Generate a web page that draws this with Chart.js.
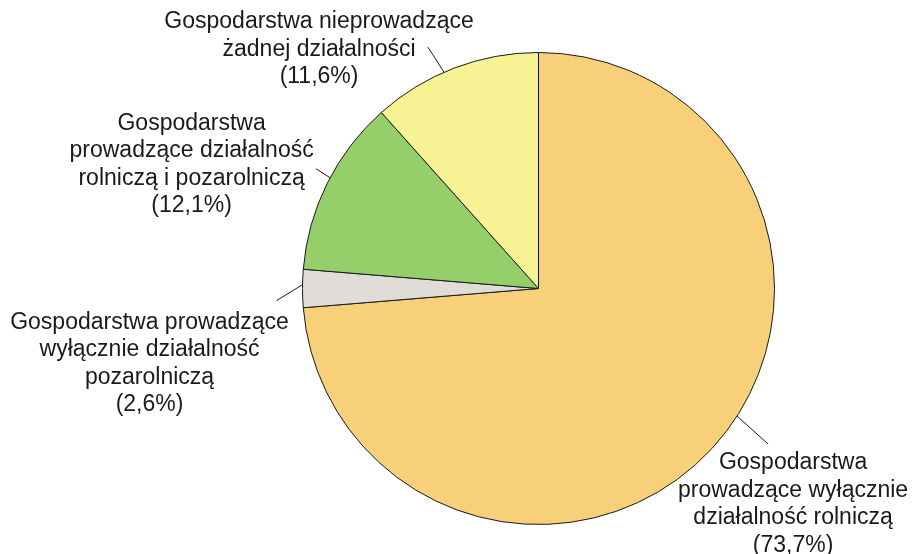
<!DOCTYPE html>
<html>
<head>
<meta charset="utf-8">
<script src="https://cdn.jsdelivr.net/npm/chart.js@4.4.1/dist/chart.umd.min.js"></script>
<style>
  html, body { margin: 0; padding: 0; background: #fff; }
  #wrap { width: 912px; height: 554px; position: relative; }
</style>
</head>
<body>
<div id="wrap"><canvas id="pieChart"></canvas></div>
<script>
// Dane wykresu
const categories = [
    ['Gospodarstwa', 'prowadzące wyłącznie', 'działalność rolniczą'],
    ['Gospodarstwa prowadzące', 'wyłącznie działalność', 'pozarolniczą'],
    ['Gospodarstwa', 'prowadzące działalność', 'rolniczą i pozarolniczą'],
    ['Gospodarstwa nieprowadzące', 'żadnej działalności']
];
const shares = [73.7, 2.6, 12.1, 11.6];
const sliceColors = ['#F8D07A', '#E0DDD9', '#95CF69', '#F7F293'];

// Rozmieszczenie etykiet: miejsce na łuku (0..1), koniec linii, przesunięcie tekstu
const labelLayout = [
    { at: 0.4625, lx: 31, ly: 28, tx: 25, ty: 25 },
    { at: 0.6, lx: -26, ly: 16, tx: -127, ty: 28 },
    { at: 0.535, lx: -14, ly: -9, tx: -124.5, ty: -39 },
    { at: 0.435, lx: -16, ly: -25, tx: -109, ty: -19 }
];

const fontSize = 23;
const lineHeight = 27.5;

function formatShare(v) {
    return '(' + v.toFixed(1).replace('.', ',') + '%)';
}

const pieLabels = {
    id: 'pieLabels',
    afterDraw(chart) {
        const ctx = chart.ctx;
        const arcs = chart.getDatasetMeta(0).data;
        ctx.save();
        arcs.forEach(function(arc, i) {
            const p = arc.getProps(['x', 'y', 'startAngle', 'endAngle', 'outerRadius'], true);
            const lay = labelLayout[i];
            const a = p.startAngle + lay.at * (p.endAngle - p.startAngle);
            const x0 = p.x + p.outerRadius * Math.cos(a);
            const y0 = p.y + p.outerRadius * Math.sin(a);
            const x1 = x0 + lay.lx;
            const y1 = y0 + lay.ly;

            ctx.strokeStyle = '#1a1a1a';
            ctx.lineWidth = 1;
            ctx.beginPath();
            ctx.moveTo(x0, y0);
            ctx.lineTo(x1, y1);
            ctx.stroke();

            const lines = categories[i].concat([formatShare(shares[i])]);
            ctx.fillStyle = '#1a1a1a';
            ctx.font = fontSize + 'px "Liberation Sans", Arial, sans-serif';
            ctx.textAlign = 'center';
            ctx.textBaseline = 'alphabetic';
            lines.forEach(function(line, k) {
                ctx.fillText(line, x1 + lay.tx, y1 + lay.ty + k * lineHeight);
            });
        });
        ctx.restore();
    }
};

new Chart(document.getElementById('pieChart'), {
    type: 'pie',
    data: {
        labels: categories.map(c => c.join(' ')),
        datasets: [{
            data: shares,
            backgroundColor: sliceColors,
            borderColor: '#1a1a1a',
            borderWidth: 1
        }]
    },
    options: {
        responsive: true,
        maintainAspectRatio: false,
        animation: false,
        layout: {
            padding: { top: 52, bottom: 29, left: 302, right: 137 }
        },
        plugins: {
            legend: { display: false },
            tooltip: { enabled: false }
        }
    },
    plugins: [pieLabels]
});
</script>
</body>
</html>
